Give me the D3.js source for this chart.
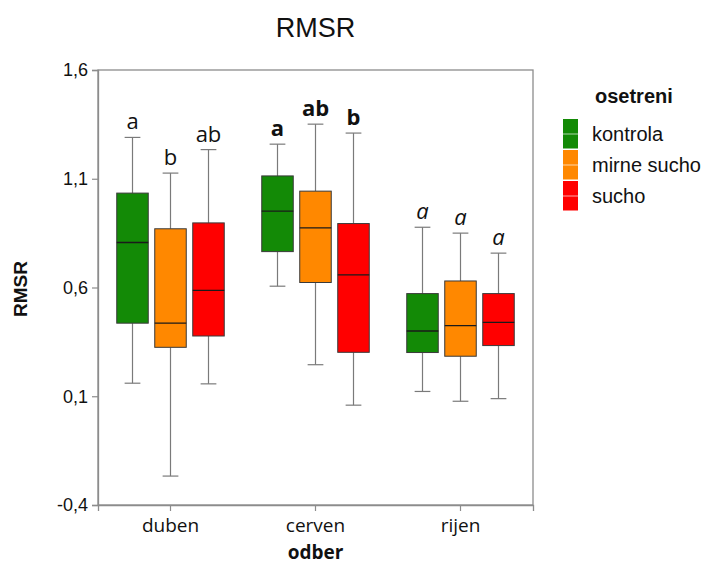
<!DOCTYPE html>
<html>
<head>
<meta charset="utf-8">
<script src="https://cdn.jsdelivr.net/npm/d3@7/dist/d3.min.js"></script>
<style>
  html, body { margin: 0; padding: 0; background: #fff; }
  svg { display: block; }
</style>
</head>
<body>
<svg id="chart" width="708" height="566"></svg>
<script>
// Sampling months and treatments
const months = ["duben", "cerven", "rijen"];
const treatments = ["kontrola", "mirne sucho", "sucho"];
const colors = ["#138a06", "#ff8800", "#ff0000"];

// Box statistics per month, one entry per treatment: [min, q1, median, q3, max]
const dubenStats = [
  [0.16, 0.436, 0.807, 1.034, 1.29],
  [-0.267, 0.325, 0.436, 0.870, 1.126],
  [0.157, 0.377, 0.587, 0.897, 1.234]
];
const cervenStats = [
  [0.606, 0.765, 0.951, 1.113, 1.259],
  [0.245, 0.623, 0.874, 1.043, 1.351],
  [0.059, 0.302, 0.658, 0.894, 1.31]
];
const rijenStats = [
  [0.122, 0.301, 0.400, 0.572, 0.877],
  [0.077, 0.284, 0.425, 0.630, 0.850],
  [0.089, 0.333, 0.440, 0.572, 0.758]
];

// Significance letters per month and their type style
const dubenLetters = ["a", "b", "ab"];
const cervenLetters = ["a", "ab", "b"];
const rijenLetters = ["a", "a", "a"];
const letterStyles = ["normal", "bold", "italic"];

const yTicks = [-0.4, 0.1, 0.6, 1.1, 1.6];

const statsByMonth = [dubenStats, cervenStats, rijenStats];
const lettersByMonth = [dubenLetters, cervenLetters, rijenLetters];

const svg = d3.select("#chart");
const plot = { left: 98, right: 533, top: 70, bottom: 505 };

const x = d3.scaleBand().domain(months).range([plot.left, plot.right]).padding(0);
const y = d3.scaleLinear().domain([-0.4, 1.6]).range([plot.bottom, plot.top]);
const groupHalf = 53.75;
const sub = d3.scaleBand().domain(treatments)
  .range([x.bandwidth() / 2 - groupHalf, x.bandwidth() / 2 + groupHalf])
  .paddingInner(0.171).paddingOuter(0);

const comma = d => d3.format(".1f")(d).replace(".", ",").replace("−", "-");

// Frame
svg.append("rect")
  .attr("x", plot.left).attr("y", plot.top)
  .attr("width", plot.right - plot.left).attr("height", plot.bottom - plot.top)
  .attr("fill", "none").attr("stroke", "#8c8c8c").attr("stroke-width", 1.3);

// Y axis
const yAxis = svg.append("g")
  .attr("transform", `translate(${plot.left},0)`)
  .call(d3.axisLeft(y).tickValues(yTicks).tickFormat(comma).tickSize(6).tickPadding(4));
yAxis.select(".domain").attr("stroke", "#8c8c8c").attr("stroke-width", 1.3);
yAxis.selectAll(".tick line").attr("stroke", "#8c8c8c").attr("stroke-width", 1.2);
yAxis.selectAll(".tick text")
  .attr("font-family", "'Liberation Sans', Arial, sans-serif")
  .attr("font-size", 18).attr("fill", "#111");

// X axis
const xAxis = svg.append("g")
  .attr("transform", `translate(0,${plot.bottom})`)
  .call(d3.axisBottom(x).tickSize(6).tickPadding(8));
xAxis.select(".domain").attr("stroke", "#8c8c8c").attr("stroke-width", 1.3);
xAxis.selectAll(".tick line").attr("stroke", "#8c8c8c").attr("stroke-width", 1.2);
xAxis.selectAll(".tick text")
  .attr("font-family", "'Open Sans', sans-serif")
  .attr("font-size", 19).attr("fill", "#111");

// Boxes
months.forEach((m, mi) => {
  const g = svg.append("g").attr("transform", `translate(${x(m)},0)`);
  treatments.forEach((t, ti) => {
    const [lo, q1, med, q3, hi] = statsByMonth[mi][ti];
    const bx = sub(t), bw = sub.bandwidth(), cx = bx + bw / 2;
    const capW = bw * 0.5;
    const wg = g.append("g").attr("stroke", "#7a7a7a").attr("stroke-width", 1.2);
    wg.append("line").attr("x1", cx).attr("x2", cx).attr("y1", y(hi)).attr("y2", y(q3));
    wg.append("line").attr("x1", cx).attr("x2", cx).attr("y1", y(q1)).attr("y2", y(lo));
    wg.append("line").attr("x1", cx - capW / 2).attr("x2", cx + capW / 2).attr("y1", y(hi)).attr("y2", y(hi));
    wg.append("line").attr("x1", cx - capW / 2).attr("x2", cx + capW / 2).attr("y1", y(lo)).attr("y2", y(lo));
    g.append("rect")
      .attr("x", bx).attr("y", y(q3))
      .attr("width", bw).attr("height", y(q1) - y(q3))
      .attr("fill", colors[ti]).attr("stroke", "#3a3a3a").attr("stroke-width", 1);
    g.append("line")
      .attr("x1", bx).attr("x2", bx + bw).attr("y1", y(med)).attr("y2", y(med))
      .attr("stroke", "#1a1a1a").attr("stroke-width", 1.3);
    const style = letterStyles[mi];
    g.append("text")
      .attr("x", cx).attr("y", y(hi) - 8)
      .attr("text-anchor", "middle")
      .attr("font-family", "'Open Sans', sans-serif")
      .attr("font-size", 22)
      .attr("font-weight", style === "bold" ? "bold" : "normal")
      .attr("font-style", style === "italic" ? "italic" : "normal")
      .attr("fill", "#111")
      .text(lettersByMonth[mi][ti]);
  });
});

// Title
svg.append("text")
  .attr("x", 315.5).attr("y", 37).attr("text-anchor", "middle")
  .attr("font-family", "'Liberation Sans', Arial, sans-serif")
  .attr("font-size", 27).attr("fill", "#111").text("RMSR");

// Axis titles
svg.append("text")
  .attr("transform", "translate(27,289) rotate(-90)")
  .attr("text-anchor", "middle")
  .attr("font-family", "'Liberation Sans', Arial, sans-serif")
  .attr("font-size", 19).attr("font-weight", "bold").attr("fill", "#111")
  .text("RMSR");
svg.append("text")
  .attr("x", 315.5).attr("y", 559).attr("text-anchor", "middle")
  .attr("font-family", "'Open Sans', sans-serif")
  .attr("font-size", 19).attr("font-weight", "bold").attr("fill", "#111")
  .text("odber");

// Legend
const legend = svg.append("g").attr("transform", "translate(563,119)");
legend.append("text")
  .attr("x", 32).attr("y", -16)
  .attr("font-family", "'Liberation Sans', Arial, sans-serif")
  .attr("font-size", 20).attr("font-weight", "bold").attr("fill", "#111")
  .text("osetreni");
treatments.forEach((t, i) => {
  const gy = i * 31;
  legend.append("rect")
    .attr("x", 0).attr("y", gy).attr("width", 15).attr("height", 29.5)
    .attr("fill", colors[i]);
  legend.append("line")
    .attr("x1", 0).attr("x2", 15).attr("y1", gy + 15).attr("y2", gy + 15)
    .attr("stroke", "#ffffff").attr("stroke-opacity", 0.55).attr("stroke-width", 1.2);
  legend.append("text")
    .attr("x", 29).attr("y", gy + 22)
    .attr("font-family", "'Liberation Sans', Arial, sans-serif")
    .attr("font-size", 20).attr("fill", "#111")
    .text(t);
});
</script>
</body>
</html>
